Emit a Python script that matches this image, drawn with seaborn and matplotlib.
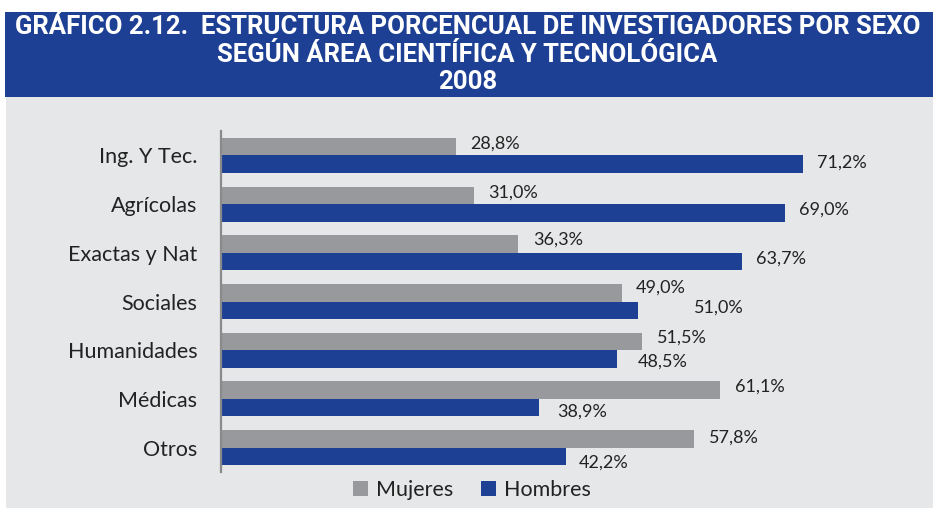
import matplotlib
matplotlib.use("Agg")
import matplotlib.pyplot as plt
from matplotlib import font_manager
from matplotlib.patches import Patch, Rectangle
import seaborn as sns
import pandas as pd

# ---- data ----
categories = ["Ing. Y Tec.", "Agrícolas", "Exactas y Nat", "Sociales",
              "Humanidades", "Médicas", "Otros"]
mujeres = [28.8, 31.0, 36.3, 49.0, 51.5, 61.1, 57.8]
hombres = [71.2, 69.0, 63.7, 51.0, 48.5, 38.9, 42.2]
series_names = ["Mujeres", "Hombres"]
title_lines = ["GRÁFICO 2.12.  ESTRUCTURA PORCENCUAL DE INVESTIGADORES POR SEXO",
               "SEGÚN ÁREA CIENTÍFICA Y TECNOLÓGICA",
               "2008"]

# ---- styling ----
GRAY = "#98999D"
BLUE = "#1D3F94"
BG = "#E6E7E8"
W, H = 933, 508
# label offsets (pixels) relative to bar end / bar centre
lab_dx = {"Mujeres": [14, 14, 15, 14, 15, 15, 15],
          "Hombres": [14, 14, 14, 56, 20, 18, 13]}
lab_dy = {"Mujeres": [-3, -3, -4, -5, -4, -4, -1],
          "Hombres": [-2, -3, -3, -3, 3, 4, 6]}

names = {f.name for f in font_manager.fontManager.ttflist}
if "Liberation Sans Narrow" in names:
    title_font = "Liberation Sans Narrow"
elif "Roboto" in names:
    title_font = "Roboto"
else:
    title_font = "Liberation Sans"
body_font = "Lato" if "Lato" in names else "DejaVu Sans"

df = pd.DataFrame({
    "Área": categories * 2,
    "Sexo": [series_names[0]] * len(categories) + [series_names[1]] * len(categories),
    "Valor": mujeres + hombres,
})

sns.set_theme(style="white")
plt.rcParams["font.family"] = [body_font, "DejaVu Sans"]

fig = plt.figure(figsize=(W / 100, H / 100), dpi=100)
fig.patch.set_facecolor("white")
# background panels
fig.add_artist(Rectangle((6 / W, 0), 1 - 6 / W, 1 - 97 / H, transform=fig.transFigure,
                         facecolor=BG, edgecolor="none", zorder=0))
fig.add_artist(Rectangle((5 / W, 1 - 97 / H), 1 - 5 / W, 85 / H, transform=fig.transFigure,
                         facecolor=BLUE, edgecolor="none", zorder=0))

ax = fig.add_axes([221 / W, 1 - 472 / H, (875 - 221) / W, (472 - 131) / H])
ax.set_facecolor("none")
sns.barplot(data=df, y="Área", x="Valor", hue="Sexo", orient="h",
            order=categories, hue_order=series_names,
            palette=[GRAY, BLUE], width=0.72, saturation=1, legend=False,
            edgecolor="none", ax=ax)
ax.set_xlim(0, 80)
ax.set_ylim(6.5, -0.5)
ax.set_xlabel("")
ax.set_ylabel("")
ax.set_xticks([])
for s in ["top", "right", "bottom"]:
    ax.spines[s].set_visible(False)
ax.spines["left"].set_color("#8A8A8A")
ax.spines["left"].set_linewidth(1.6)
ax.tick_params(axis="y", length=0, pad=17, labelsize=15.5, labelcolor="#222222")

px2pt = 72 / 100
for cont, name in zip(ax.containers, series_names):
    for i, bar in enumerate(cont):
        v = bar.get_width()
        yc = bar.get_y() + bar.get_height() / 2
        ax.annotate(f"{v:.1f}%".replace(".", ","), xy=(v, yc),
                    xytext=(lab_dx[name][i] * px2pt, -lab_dy[name][i] * px2pt),
                    textcoords="offset points", ha="left", va="center",
                    fontsize=13, color="#222222")

handles = [Patch(facecolor=GRAY, edgecolor="none"), Patch(facecolor=BLUE, edgecolor="none")]
fig.legend(handles, series_names, loc="center", bbox_to_anchor=(472 / W, 1 - 490 / H),
           ncol=2, frameon=False, fontsize=15.5, handlelength=0.7, handleheight=0.7,
           handletextpad=0.35, columnspacing=1.3, labelcolor="#222222")

# title
ys = [27, 55, 82]
texts = []
for line, y in zip(title_lines, ys):
    t = fig.text(0.5 + 1 / W, 1 - y / H, line, ha="center", va="center", color="white",
                 fontsize=17, fontweight="bold", family=[title_font, "DejaVu Sans"])
    texts.append(t)
renderer = fig.canvas.get_renderer()
w0 = texts[0].get_window_extent(renderer).width
scale = 906 / w0
for t in texts:
    t.set_fontsize(17 * scale)

fig.savefig("out.png", dpi=100, facecolor=fig.get_facecolor())
